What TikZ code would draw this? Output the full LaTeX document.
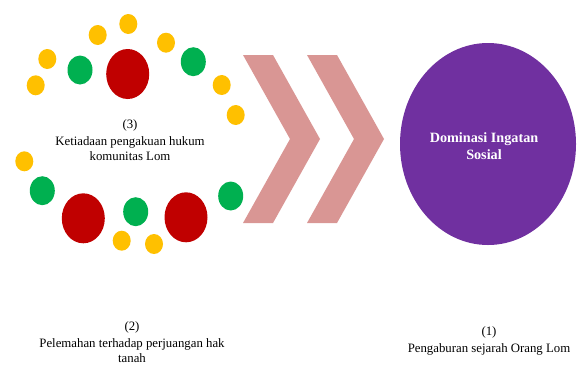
\documentclass[tikz,border=0pt]{standalone}
\usepackage{fontspec}
\setmainfont{Liberation Serif}
\definecolor{cyellow}{HTML}{FFC000}
\definecolor{cgreen}{HTML}{00B050}
\definecolor{cred}{HTML}{C00000}
\definecolor{cpurple}{HTML}{7030A0}
\definecolor{cchev}{HTML}{D99694}
\begin{document}
\begin{tikzpicture}[x=1pt,y=-1pt,
  ydot/.style={fill=cyellow,draw=none},
  gdot/.style={fill=cgreen,draw=none},
  rdot/.style={fill=cred,draw=none},
  chev/.style={fill=cchev,draw=none},
  lbl/.style={align=center,font=\fontsize{12.8}{14.5}\selectfont,inner sep=0pt},
  bigtxt/.style={align=center,text=white,font=\fontsize{14.2}{17.5}\selectfont\bfseries,inner sep=0pt}]
\useasboundingbox (0,0) rectangle (577,365);
% yellow dots
\foreach \x/\y in {128.3/24,97.7/35,166/42.7,47.3/59,35.7/85.3,221.7/85,235.7/115,24.3/161.3,121.7/240.7,154/244}
  \fill[ydot] (\x,\y) ellipse [x radius=9,y radius=10];
% green dots
\foreach \x/\y in {80/70,193.3/61.7,42.3/190.7,135.7/211.7,230.7/196}
  \fill[gdot] (\x,\y) ellipse [x radius=12.5,y radius=14.5];
% red dots
\foreach \x/\y in {127.7/74,83.3/218.3,186/217.3}
  \fill[rdot] (\x,\y) ellipse [x radius=21.5,y radius=25];
% chevrons
\fill[chev] (243,55) -- (273,55) -- (320,139) -- (273,223) -- (243,223) -- (290,139) -- cycle;
\fill[chev] (307,55) -- (337,55) -- (384,139) -- (337,223) -- (307,223) -- (354,139) -- cycle;
% purple ellipse
\fill[cpurple] (488,144) ellipse [x radius=88,y radius=101];
\node[bigtxt] (dom) at (484,146) {Dominasi Ingatan\\Sosial};
% labels
\node[lbl] (l3) at (130,140) {(3)\\[3pt]Ketiadaan pengakuan hukum\\komunitas Lom};
\node[lbl] (l2) at (132,342) {(2)\\[3pt]Pelemahan terhadap perjuangan hak\\tanah};
\node[lbl] (l1) at (489,341) {(1)\\[3pt]Pengaburan sejarah Orang Lom};
\end{tikzpicture}
\end{document}
